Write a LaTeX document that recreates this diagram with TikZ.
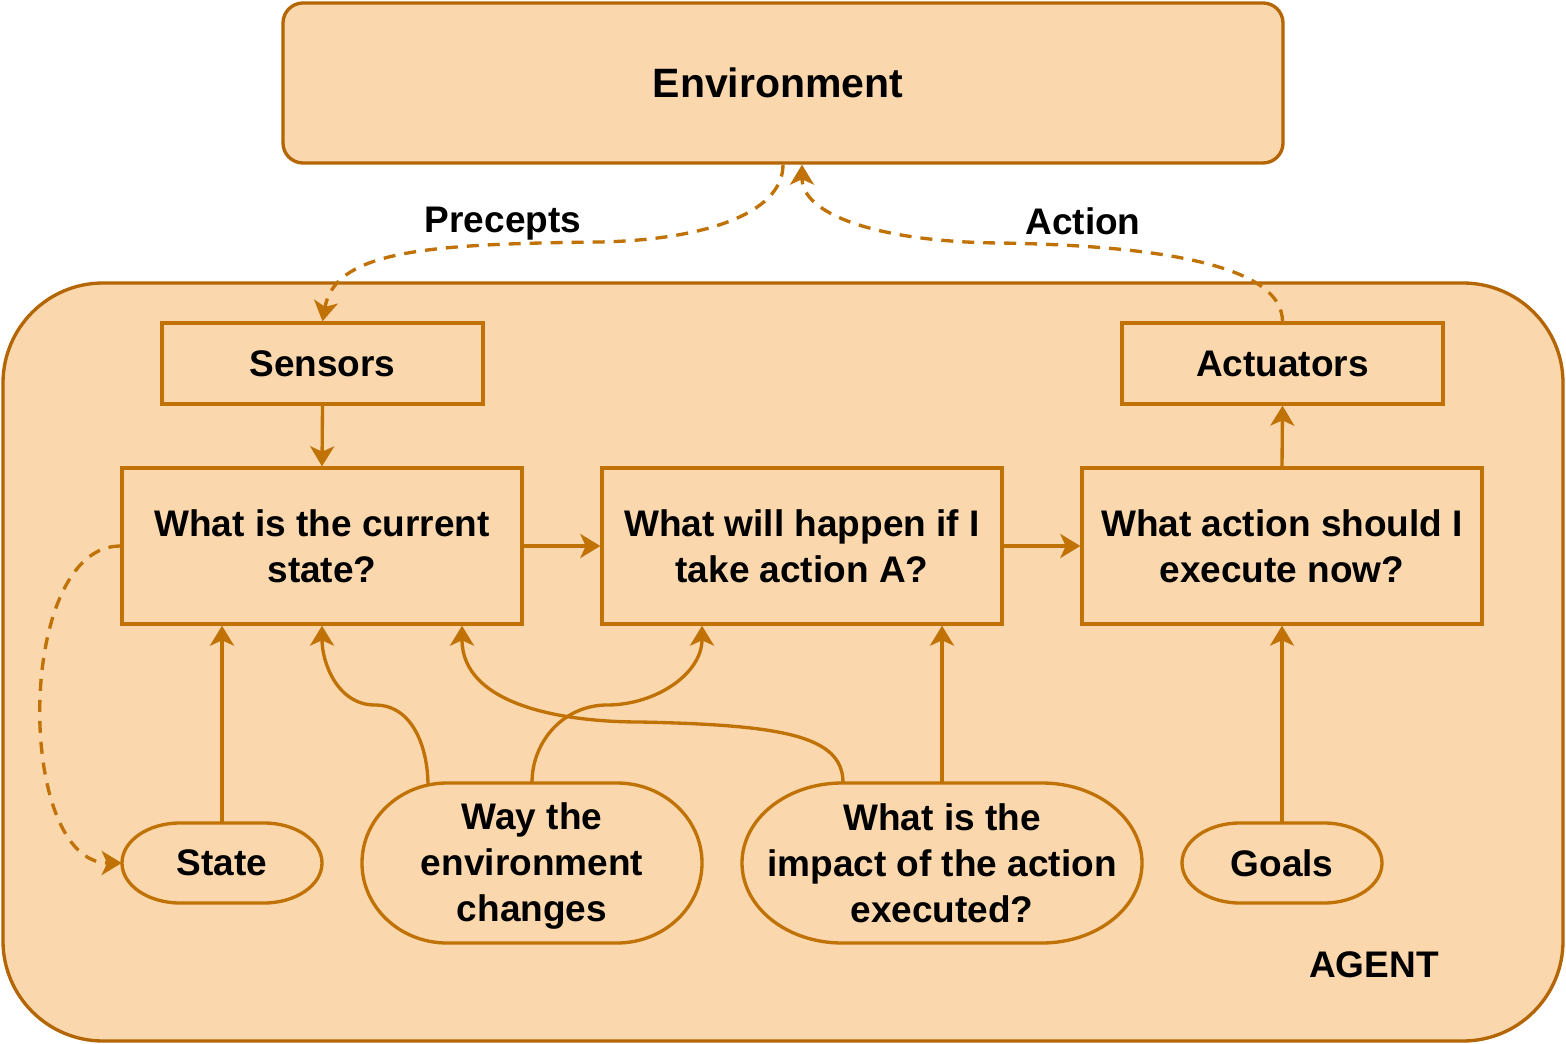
\documentclass[tikz,border=0pt]{standalone}
\usepackage{fontspec}
\setmainfont{Liberation Sans}
\usetikzlibrary{arrows.meta,calc}
\definecolor{fillc}{HTML}{FAD7AC}
\definecolor{edgec}{HTML}{B46504}
\definecolor{linec}{HTML}{C07206}
\tikzset{
  lbl/.style={font=\fontsize{27.75pt}{34.5pt}\selectfont\bfseries, align=center, text=black},
  qbox/.style={lbl, draw=linec, fill=fillc, line width=2.5pt, inner sep=0pt, minimum width=300pt, minimum height=117pt},
  sbox/.style={qbox, minimum width=240.75pt, minimum height=60.75pt},
  conn/.style={draw=linec, line width=2.5pt, -{Stealth[length=15pt,width=18pt,inset=4pt]}},
  dconn/.style={conn, dash pattern=on 9pt off 6.75pt},
  pill/.style={draw=linec, fill=fillc, line width=2.5pt},
  pilltext/.style={lbl, inner sep=0pt},
  bigbox/.style={draw=edgec, fill=fillc, line width=2.5pt, inner sep=0pt},
}
\begin{document}
\begin{tikzpicture}[x=0.75pt,y=-0.75pt]
\useasboundingbox (0,0) rectangle (1566,1044);

% outer boxes
\node[bigbox, rounded corners=15pt, minimum width=750pt, minimum height=120pt] (env) at (783,83) {};
\node[lbl, font=\fontsize{30.75pt}{36pt}\selectfont\bfseries] (envtxt) at (778,83) {Environment};
\node[bigbox, rounded corners=75pt, minimum width=1170pt, minimum height=568.5pt] (agent) at (783,662) {};
\node[lbl] (agentlbl) at (1374,965) {AGENT};

% sensors / actuators
\node[sbox] (sensors) at (322.5,363.5) {Sensors};
\node[sbox] (actuators) at (1282.5,363.5) {Actuators};

% question boxes
\node[qbox] (box1) at (322,546) {What is the current\\state?};
\node[qbox] (box2) at (802,546) {What will happen if I\\take action A?};
\node[qbox] (box3) at (1282,546) {What action should I\\execute now?};

% pills
\draw[pill] (180,823) -- (264,823) arc[start angle=-90,end angle=90,x radius=58,y radius=40]
  -- (180,903) arc[start angle=90,end angle=270,x radius=58,y radius=40] -- cycle;
\node[pilltext, minimum width=150pt, minimum height=60pt] (state) at (222,863) {State};

\draw[pill] (1240,823) -- (1324,823) arc[start angle=-90,end angle=90,x radius=58,y radius=40]
  -- (1240,903) arc[start angle=90,end angle=270,x radius=58,y radius=40] -- cycle;
\node[pilltext, minimum width=150pt, minimum height=60pt] (goals) at (1282,863) {Goals};

\draw[pill] (447,783) -- (617,783) arc[start angle=-90,end angle=90,x radius=85,y radius=80]
  -- (447,943) arc[start angle=90,end angle=270,x radius=85,y radius=80] -- cycle;
\node[pilltext, minimum width=255pt, minimum height=120pt] (way) at (532,863) {};
\node[pilltext] (waytxt) at (532,866) {Way the\\environment\\changes};

\draw[pill] (842,783) -- (1042,783) arc[start angle=-90,end angle=90,x radius=100,y radius=80]
  -- (842,943) arc[start angle=90,end angle=270,x radius=100,y radius=80] -- cycle;
\node[pilltext, minimum width=300pt, minimum height=120pt] (impact) at (942,863) {What is the\\impact of the action\\executed?};

% edge labels
\node[lbl] (precepts) at (503,224) {Precepts};
\node[lbl] (actionlbl) at (1083,221) {Action};

% waypoints
\coordinate (pmid) at (600,242);
\coordinate (amid) at (1000,243);
\coordinate (wayL) at ($(way.north)+(-104,3)$);
\coordinate (wayflat1) at (375,705);
\coordinate (wayflat2) at (607,705);
\coordinate (impL) at ($(impact.north)+(-99,0)$);
\coordinate (impmid) at (640,722);

% dashed connectors
\draw[dconn] (env.south) .. controls (783,215) and (700,240) .. (pmid)
   .. controls (430,244) and (335,250) .. (sensors.north);
\draw[dconn] (actuators.north) .. controls (1282,270) and (1180,246) .. (amid)
   .. controls (880,242) and (802,215) .. ($(env.south)+(19,0)$);
\draw[dconn] (box1.west) .. controls (15,546) and (15,863) .. (state.west);

% solid connectors
\draw[conn] (sensors.south) -- (box1.north);
\draw[conn] (box1.east) -- (box2.west);
\draw[conn] (box2.east) -- (box3.west);
\draw[conn] (box3.north) -- (actuators.south);
\draw[conn] (goals.north) -- (box3.south);
\draw[conn] (state.north) -- ($(box1.south)+(-100,0)$);
\draw[conn] (impact.north) -- (impact.north |- box2.south);
\draw[conn] (wayL) to[out=90,in=0] (wayflat1) to[out=180,in=-90] (box1.south);
\draw[conn] (way.north) to[out=90,in=180] (wayflat2) to[out=0,in=-90] ($(box2.south)+(-100,0)$);
\draw[conn] (impL) .. controls (843,735) and (780,725) .. (impmid)
   to[out=180,in=-90] ($(box1.south)+(140,0)$);
\end{tikzpicture}
\end{document}
